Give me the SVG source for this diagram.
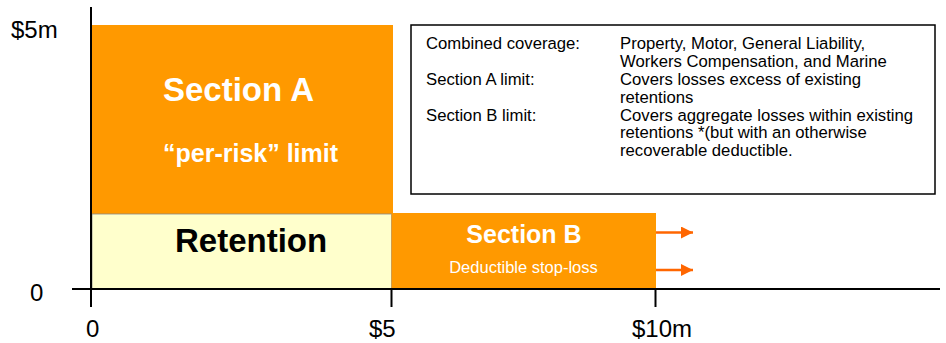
<svg xmlns="http://www.w3.org/2000/svg" width="946" height="343" viewBox="0 0 946 343">
<defs>
<style>
text{font-family:"Liberation Sans",Arial,sans-serif}
.ax{font-size:24px;fill:#000}
.box{font-size:16.7px;fill:#000}
.wb{font-weight:bold;fill:#fff}
.arr{stroke:#ff6600;stroke-width:2.5;fill:none}
</style>
<marker id="ah" viewBox="0 0 12 12" refX="12" refY="6" markerWidth="12" markerHeight="12" markerUnits="userSpaceOnUse" orient="auto">
<path d="M0,0 L12,6 L0,12 Z" fill="#ff6600"/>
</marker>
</defs>
<rect width="946" height="343" fill="#fff"/>
<g id="sectionA">
<rect x="92" y="25" width="301" height="189" fill="#ff9900"/>
<text class="wb" x="163" y="101" font-size="33">Section A</text>
<text class="wb" x="163" y="162" font-size="25">“per-risk” limit</text>
</g>
<g id="retention">
<rect x="92" y="214" width="299.5" height="75" fill="#ffffcc" stroke="#888" stroke-width="0.8"/>
<text x="175" y="252" font-size="33" font-weight="bold" fill="#000">Retention</text>
</g>
<g id="sectionB">
<rect x="391.5" y="213" width="264.5" height="76" fill="#ff9900"/>
<text class="wb" x="524" y="243" font-size="25" text-anchor="middle">Section B</text>
<text x="523.5" y="273" font-size="16.5" fill="#fff" text-anchor="middle">Deductible stop-loss</text>
</g>
<g id="axes" stroke="#000" stroke-width="2">
<line x1="91" y1="7" x2="91" y2="307"/>
<line x1="72" y1="289" x2="940" y2="289"/>
<line x1="391.5" y1="289" x2="391.5" y2="307"/>
<line x1="655.5" y1="289" x2="655.5" y2="307"/>
</g>
<g id="axis-labels">
<text class="ax" x="11" y="38">$5m</text>
<text class="ax" x="30" y="301">0</text>
<text class="ax" x="86" y="337">0</text>
<text class="ax" x="369" y="337">$5</text>
<text class="ax" x="632" y="337">$10m</text>
</g>
<g id="connectors">
<line class="arr" x1="656" y1="232.5" x2="693" y2="232.5" marker-end="url(#ah)"/>
<line class="arr" x1="656" y1="270" x2="693" y2="270" marker-end="url(#ah)"/>
</g>
<g id="legend">
<rect x="411" y="25" width="524" height="169" fill="#fff" stroke="#000" stroke-width="1.5"/>
<text class="box" x="426" y="49.3">Combined coverage:</text>
<text class="box" x="426" y="84.9">Section A limit:</text>
<text class="box" x="426" y="120.5">Section B limit:</text>
<text class="box" x="620" y="49.3">Property, Motor, General Liability,</text>
<text class="box" x="620" y="67.1">Workers Compensation, and Marine</text>
<text class="box" x="620" y="84.9">Covers losses excess of existing</text>
<text class="box" x="620" y="102.7">retentions</text>
<text class="box" x="620" y="120.5">Covers aggregate losses within existing</text>
<text class="box" x="620" y="138.3">retentions *(but with an otherwise</text>
<text class="box" x="620" y="156.1">recoverable deductible.</text>
</g>
</svg>
